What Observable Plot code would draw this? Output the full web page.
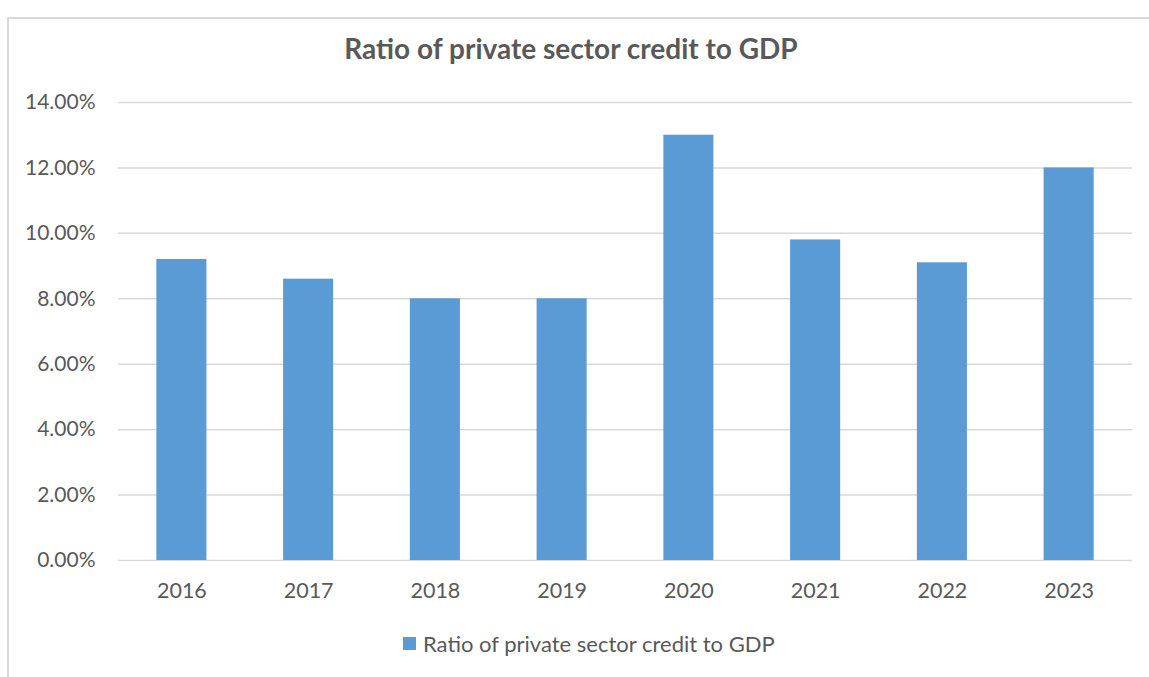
<!DOCTYPE html>
<html>
<head>
<meta charset="utf-8">
<script src="https://cdn.jsdelivr.net/npm/d3@7"></script>
<script src="https://cdn.jsdelivr.net/npm/@observablehq/plot@0.6"></script>
<style>
  body { margin: 0; background: #fff; }
  #wrap { position: relative; width: 1149px; height: 677px; overflow: hidden; font-family: Lato, "Open Sans", sans-serif; color: #595959; }
  #frame { position: absolute; left: 7px; top: 17px; width: 1200px; height: 700px; border: 2px solid #d9d9d9; box-sizing: border-box; }
  #title { position: absolute; top: 31px; left: 0; width: 1142px; text-align: center; font-size: 28px; font-weight: bold; color: #595959; }
  #chart { position: absolute; left: 0; top: 0; }
  #legend { position: absolute; top: 630px; left: 403px; font-size: 22px; display: flex; align-items: center; }
  #legend span.sw { display: inline-block; width: 13px; height: 13px; background: #5b9bd5; margin-right: 7px; }
</style>
</head>
<body>
<div id="wrap">
  <div id="frame"></div>
  <div id="chart"></div>
  <div id="title">Ratio of private sector credit to GDP</div>
  <div id="legend"><span class="sw"></span><span id="legtext"></span></div>
</div>
<script>
const years = ["2016", "2017", "2018", "2019", "2020", "2021", "2022", "2023"];
const ratios = [0.092, 0.086, 0.080, 0.080, 0.130, 0.098, 0.091, 0.120];
const yTicks = [0, 0.02, 0.04, 0.06, 0.08, 0.10, 0.12, 0.14];
const seriesName = "Ratio of private sector credit to GDP";

const data = years.map((y, i) => ({year: y, value: ratios[i]}));

const plot = Plot.plot({
  width: 1149,
  height: 620,
  marginLeft: 118,
  marginRight: 17,
  marginTop: 102,
  marginBottom: 60,
  style: {fontFamily: "Lato, 'Open Sans', sans-serif", fontSize: "21px", color: "#595959", background: "transparent"},
  x: {domain: years, paddingInner: 0.605, paddingOuter: 0.3025, round: false, label: null},
  y: {domain: [0, 0.14], label: null},
  marks: [
    Plot.gridY(yTicks, {stroke: "#d9d9d9", strokeOpacity: 1, strokeWidth: 1.5}),
    Plot.barY(data, {x: "year", y: "value", fill: "#5b9bd5"}),
    Plot.axisY(yTicks, {tickFormat: d3.format(".2%"), tickSize: 0, tickPadding: 23, fill: "#595959", fontSize: 21}),
    Plot.axisX({tickSize: 0, tickPadding: 22, fill: "#595959", fontSize: 21.5})
  ]
});
document.getElementById("chart").appendChild(plot);
document.getElementById("legtext").textContent = seriesName;
</script>
</body>
</html>
